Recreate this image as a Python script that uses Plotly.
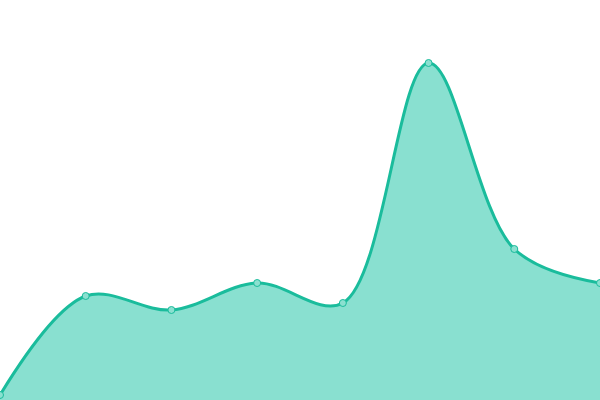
import plotly.graph_objects as go

# one point per step along the x axis
steps = [0, 1, 2, 3, 4, 5, 6, 7]
values = [5, 104, 90, 117, 97, 337, 151, 117]

fig = go.Figure()
fig.add_trace(go.Scatter(
    x=steps, y=values,
    mode='lines+markers',
    line=dict(color='#1abc9c', width=3, shape='spline', smoothing=1),
    marker=dict(size=7, color='#8be0d0', line=dict(color='#1abc9c', width=1)),
    fill='tozeroy',
    fillcolor='#89e0d0',
))

fig.update_layout(
    width=600, height=400,
    margin=dict(l=0, r=0, t=0, b=0),
    paper_bgcolor='white', plot_bgcolor='white',
    showlegend=False,
    xaxis=dict(visible=False, range=[0, 7]),
    yaxis=dict(visible=False, range=[0, 400]),
)

# drop the page's default body margin so the chart fills the window
fig.write_html("out.html",
               config={'displayModeBar': False},
               post_script="document.body.style.margin='0';document.body.style.overflow='hidden';")
